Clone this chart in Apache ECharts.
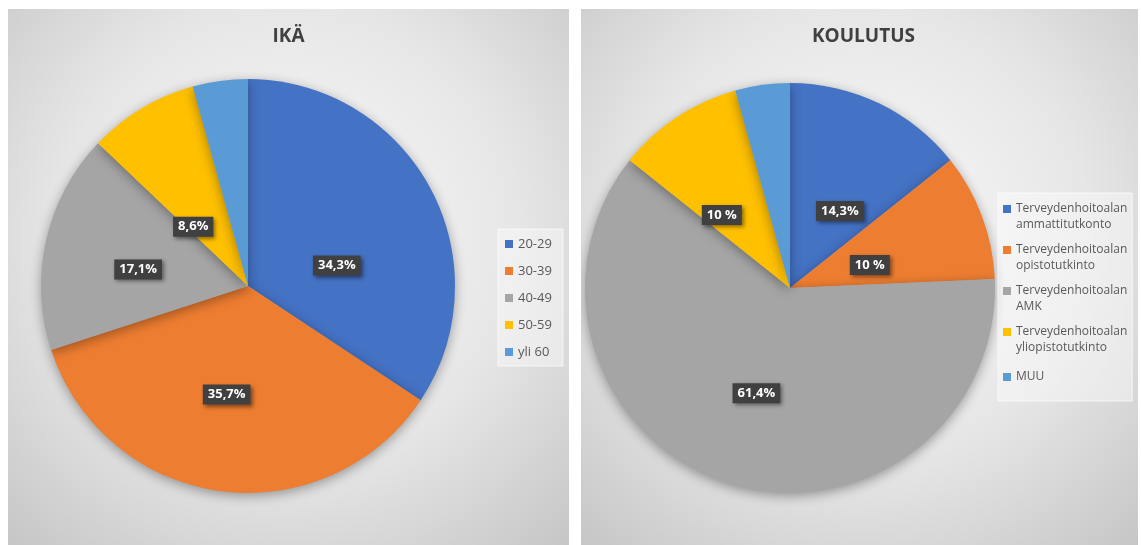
<!DOCTYPE html>
<html>
<head>
<meta charset="utf-8">
<script src="https://cdn.jsdelivr.net/npm/echarts@6/dist/echarts.min.js"></script>
<style>
  html, body { margin: 0; padding: 0; background: #ffffff; width: 1141px; height: 545px; overflow: hidden; }
  .panel { position: absolute; top: 9px; height: 536px; }
  #age { left: 8px; width: 561px; }
  #edu { left: 581px; width: 557px; }
</style>
</head>
<body>
<div id="age" class="panel"></div>
<div id="edu" class="panel"></div>
<script>
// Age groups and their shares (%)
const ageTitle = 'IKÄ';
const ageCategories = ['20-29', '30-39', '40-49', '50-59', 'yli 60'];
const ageShares = [34.3, 35.7, 17.1, 8.6, 4.3];

// Education and its shares (%)
const eduTitle = 'KOULUTUS';
const eduCategories = [
  'Terveydenhoitoalan\nammattitutkonto',
  'Terveydenhoitoalan\nopistotutkinto',
  'Terveydenhoitoalan\nAMK',
  'Terveydenhoitoalan\nyliopistotutkinto',
  'MUU'
];
const eduShares = [14.3, 10, 61.4, 10, 4.3];

const palette = ['#4472C4', '#ED7D31', '#A5A5A5', '#FFC000', '#5B9BD5'];
const FONT = '"Open Sans", "Noto Sans", sans-serif';

// Finnish style percentage: decimal comma, whole numbers get a spaced sign
function pct(v) {
  return Number.isInteger(v) ? v + ' %' : String(v).replace('.', ',') + '%';
}

// Panel background: soft radial shading, light centre to grey edges
const panelBg = {
  type: 'radial', x: 0.5, y: 0.42, r: 0.78,
  colorStops: [
    { offset: 0, color: '#fbfbfb' },
    { offset: 0.55, color: '#e6e6e6' },
    { offset: 1, color: '#c6c6c6' }
  ]
};

const labelStyle = {
  show: true,
  position: 'inside',
  formatter: p => pct(p.value),
  color: '#ffffff',
  fontFamily: FONT,
  fontWeight: 'bold',
  fontSize: 13,
  backgroundColor: '#404040',
  padding: [4, 5, 3, 5],
  shadowColor: 'rgba(0,0,0,0.45)',
  shadowBlur: 4,
  shadowOffsetX: 2,
  shadowOffsetY: 2
};

// Per-slice nudges of the value boxes (pixels) so they sit a little nearer the centre
const ageLabelNudge = [[-5, 30], [-7, 3], [-6, 7], [0, 32], [0, 0]];
const eduLabelNudge = [[4, 18], [-19, 14], [-1, 5], [-10, 15], [0, 0]];

function pieData(names, values, nudge) {
  return names.map((n, i) => ({
    name: n,
    value: values[i],
    itemStyle: { color: palette[i] },
    label: { show: values[i] > 5, offset: nudge[i] }
  }));
}

function baseOption(title, titleLeft, center, radius) {
  return {
    animation: false,
    backgroundColor: panelBg,
    title: {
      text: title,
      left: titleLeft,
      top: 18,
      padding: 0,
      textStyle: { fontFamily: FONT, fontWeight: 'bold', fontSize: 19, color: '#404040' }
    },
    series: [{
      type: 'pie',
      center: center,
      radius: radius,
      startAngle: 90,
      clockwise: true,
      silent: true,
      itemStyle: {
        borderWidth: 0,
        shadowColor: 'rgba(0,0,0,0.35)',
        shadowBlur: 12,
        shadowOffsetY: 3
      },
      labelLine: { show: false },
      label: labelStyle,
      emphasis: { disabled: true }
    }]
  };
}

// Left panel: age
const ageChart = echarts.init(document.getElementById('age'), null, { renderer: 'canvas' });
const ageOpt = baseOption(ageTitle, 'center', [240, 277], 207);
ageOpt.series[0].data = pieData(ageCategories, ageShares, ageLabelNudge);
ageOpt.legend = {
  orient: 'vertical',
  left: 490,
  top: 220,
  padding: [7, 11, 6, 7],
  itemWidth: 8,
  itemHeight: 8,
  itemGap: 11,
  icon: 'rect',
  backgroundColor: 'rgba(255,255,255,0.4)',
  borderColor: 'rgba(255,255,255,0.7)',
  borderWidth: 1,
  itemStyle: { borderWidth: 0, shadowBlur: 0 },
  textStyle: { fontFamily: FONT, fontSize: 13, color: '#595959', lineHeight: 16 },
  data: ageCategories
};
ageChart.setOption(ageOpt);

// Right panel: education
// Two-line entries keep the marker beside their first line; the single-line entry keeps it centred
const markerTop = 'path://M0,0L8,0L8,8L0,8Z M0,24L0.01,24Z';
const markerMid = 'path://M0,8L8,8L8,16L0,16Z M0,0L0.01,0Z M0,24L0.01,24Z';
const eduChart = echarts.init(document.getElementById('edu'), null, { renderer: 'canvas' });
const eduOpt = baseOption(eduTitle, 231, [209, 279], 205);
eduOpt.series[0].data = pieData(eduCategories, eduShares, eduLabelNudge);
eduOpt.legend = {
  orient: 'vertical',
  left: 417,
  top: 184,
  padding: [8, 5, 12, 5],
  itemWidth: 8,
  itemHeight: 24,
  itemGap: 9,
  backgroundColor: 'rgba(255,255,255,0.4)',
  borderColor: 'rgba(255,255,255,0.7)',
  borderWidth: 1,
  itemStyle: { borderWidth: 0, shadowBlur: 0 },
  textStyle: { fontFamily: FONT, fontSize: 12, color: '#595959', lineHeight: 16 },
  data: eduCategories.map(n => ({ name: n, icon: n.indexOf('\n') >= 0 ? markerTop : markerMid }))
};
eduChart.setOption(eduOpt);
</script>
</body>
</html>
